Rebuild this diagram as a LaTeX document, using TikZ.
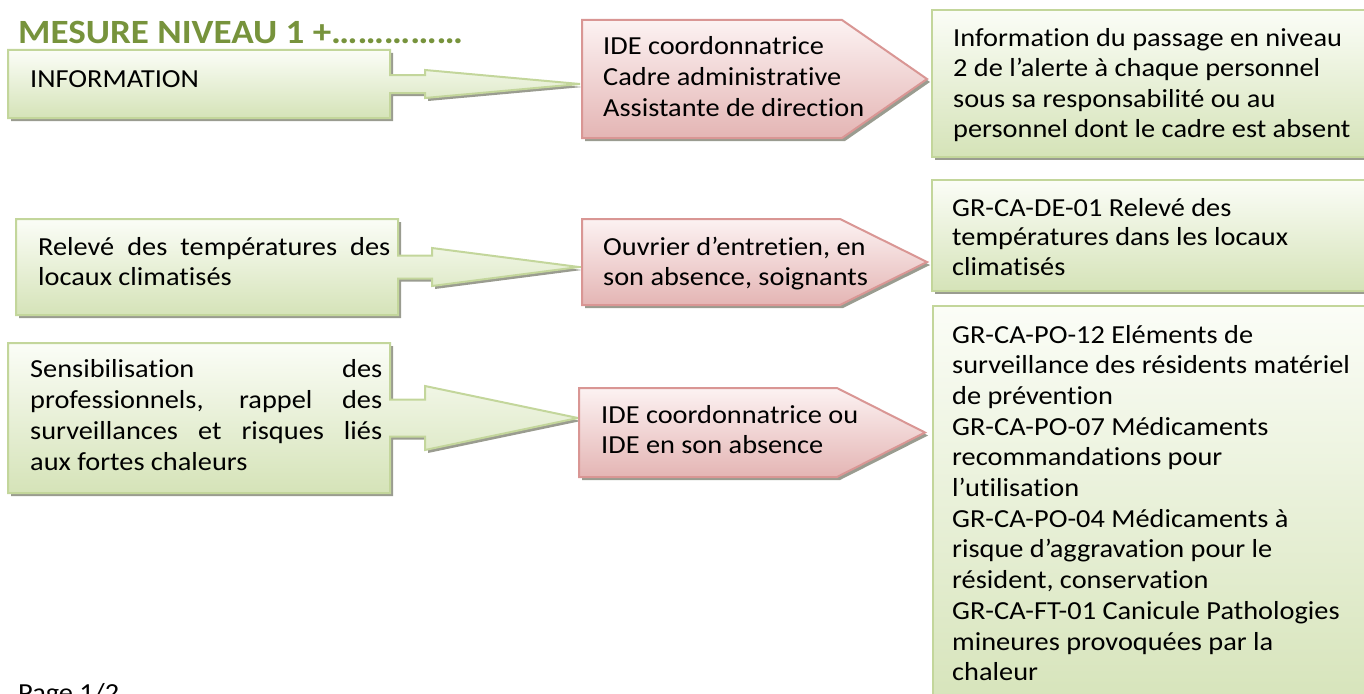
\documentclass[tikz,border=0pt]{standalone}
\usepackage{fontspec}
\setmainfont{Carlito}[FakeStretch=1.09,Ligatures=NoCommon]
\definecolor{gborder}{HTML}{C3D69B}
\definecolor{gtop}{HTML}{FBFDF7}
\definecolor{gbot}{HTML}{D5E3B8}
\definecolor{ptop}{HTML}{FCF2F2}
\definecolor{pbot}{HTML}{E4B5B4}
\definecolor{pborder}{HTML}{D99694}
\definecolor{titlegreen}{HTML}{77933C}
\definecolor{shadowc}{HTML}{9A9C90}
\tikzset{
  gshape/.style={draw=gborder,line width=2pt,top color=gtop,bottom color=gbot,line join=miter},
  pshape/.style={draw=pborder,line width=2pt,top color=ptop,bottom color=pbot,line join=miter},
  txt/.style={anchor=base west,inner sep=0pt,font=\fontsize{26}{30.5}\selectfont},
}
\newcommand{\leftcallout}[9]{%
  \fill[shadowc,shift={(3,3)}] (#1,#2) -- (#3,#2) -- (#3,{#5-#6}) -- (#7,{#5-#6}) -- (#7,{#5-#8}) -- (#9,#5) -- (#7,{#5+#8}) -- (#7,{#5+#6}) -- (#3,{#5+#6}) -- (#3,#4) -- (#1,#4) -- cycle;
  \path[gshape] (#1,#2) -- (#3,#2) -- (#3,{#5-#6}) -- (#7,{#5-#6}) -- (#7,{#5-#8}) -- (#9,#5) -- (#7,{#5+#8}) -- (#7,{#5+#6}) -- (#3,{#5+#6}) -- (#3,#4) -- (#1,#4) -- cycle;}
\newcommand{\pentabox}[5]{%
  \fill[shadowc,shift={(3,3)}] (#1,#2) -- (#3,#2) -- (#4,{(#2+#5)/2}) -- (#3,#5) -- (#1,#5) -- cycle;
  \path[pshape] (#1,#2) -- (#3,#2) -- (#4,{(#2+#5)/2}) -- (#3,#5) -- (#1,#5) -- cycle;}
\newcommand{\rightbox}[4]{%
  \fill[shadowc,shift={(3,3)}] (#1,#2) rectangle (#3,#4);
  \path[gshape] (#1,#2) rectangle (#3,#4);}
\begin{document}
\begin{tikzpicture}[x=1pt,y=-1pt]
\useasboundingbox (0,0) rectangle (1364,693);
\clip (0,0) rectangle (1364,693);
% title
\node[anchor=base west,inner sep=0pt,text=titlegreen,font=\fontsize{34}{38}\selectfont\bfseries] (title) at (18,44) {MESURE NIVEAU 1 +……………};
% left callouts
\leftcallout{8}{50}{390}{118}{84}{9}{425}{14}{580}
\leftcallout{16}{219}{398}{315}{267}{11.5}{432}{19}{579}
\leftcallout{8}{343}{390}{493}{418}{18.5}{425}{32}{578}
% pentagons
\pentabox{582}{20}{842}{927}{138}
\pentabox{582}{219}{840}{927}{305}
\pentabox{579}{388}{837}{925}{477}
% right boxes
\rightbox{932}{10}{1390}{157}
\rightbox{932}{180}{1390}{291}
\rightbox{933}{306}{1390}{720}
% texts
\node[txt] (l1) at (30,87) {INFORMATION};
\node[txt] (l2) at (38,255) {\parbox[t]{352pt}{\fontsize{26}{30}\selectfont Relevé des températures des\linebreak locaux climatisés}};
\node[txt] (l3) at (30,377) {\parbox[t]{352pt}{\fontsize{26}{31}\selectfont Sensibilisation des\linebreak professionnels, rappel des\linebreak surveillances et risques liés\linebreak aux fortes chaleurs}};
\node[txt] (m1) at (603,55) {\parbox[t]{320pt}{\fontsize{26}{31}\selectfont\raggedright IDE coordonnatrice\\Cadre administrative\\Assistante de direction}};
\node[txt] (m2) at (603,255) {\parbox[t]{320pt}{\fontsize{26}{30}\selectfont\raggedright Ouvrier d’entretien, en\\son absence, soignants}};
\node[txt] (m3) at (601,423) {\parbox[t]{320pt}{\fontsize{26}{30}\selectfont\raggedright IDE coordonnatrice ou\\IDE en son absence}};
\node[txt] (r1) at (953,47) {\parbox[t]{420pt}{\fontsize{26}{30}\selectfont\raggedright Information du passage en niveau\\2 de l’alerte à chaque personnel\\sous sa responsabilité ou au\\personnel dont le cadre est absent}};
\node[txt] (r2) at (952,216) {\parbox[t]{420pt}{\fontsize{26}{29.5}\selectfont\raggedright GR-CA-DE-01 Relevé des\\températures dans les locaux\\climatisés}};
\node[txt] (r3) at (952,343) {\parbox[t]{420pt}{\fontsize{26}{30.7}\selectfont\raggedright GR-CA-PO-12 Eléments de\\surveillance des résidents matériel\\de prévention\\GR-CA-PO-07 Médicaments\\recommandations pour\\l'utilisation\\GR-CA-PO-04 Médicaments à\\risque d’aggravation pour le\\résident, conservation\\GR-CA-FT-01 Canicule Pathologies\\mineures provoquées par la\\chaleur}};
\node[txt] (page) at (18,701) {Page 1/2};
\end{tikzpicture}
\end{document}
